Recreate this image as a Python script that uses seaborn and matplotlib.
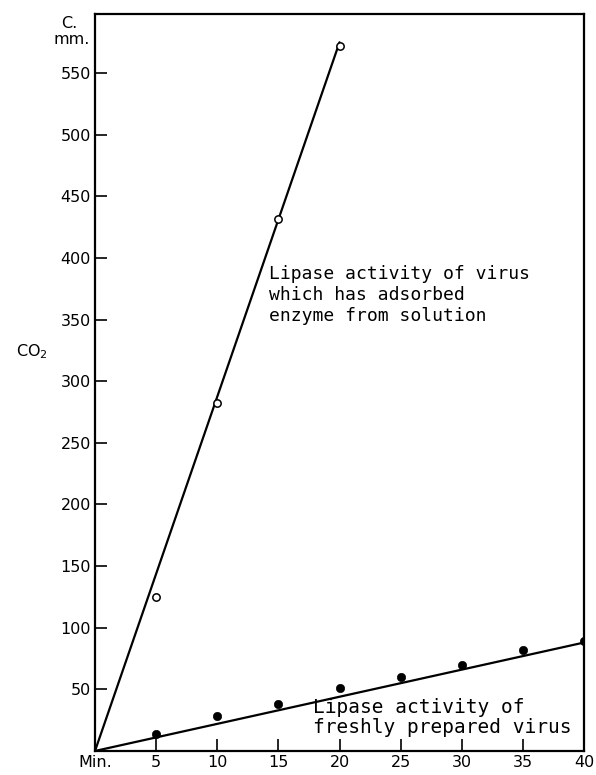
import numpy as np
import pandas as pd
import seaborn as sns
import matplotlib.pyplot as plt

# Data (minutes vs CO2 in c.mm.)
adsorbed_min = [5, 10, 15, 20]
adsorbed_co2 = [125, 282, 432, 572]
fresh_min = [5, 10, 15, 20, 25, 30, 35, 40]
fresh_co2 = [13.5, 28.5, 38, 51, 60, 70, 82, 89]

# drawn straight lines through the origin
adsorbed_line_x = [0, 20]
adsorbed_line_y = [0, 575]
fresh_line_x = [0, 40]
fresh_line_y = [0, 88]

x_ticks = [0, 5, 10, 15, 20, 25, 30, 35, 40]
x_labels = ['Min.', '5', '10', '15', '20', '25', '30', '35', '40']
y_ticks = [50, 100, 150, 200, 250, 300, 350, 400, 450, 500, 550]

sns.set_theme(style='white')
plt.rcParams['font.family'] = ['DejaVu Sans']
plt.rcParams['text.color'] = 'black'

fig = plt.figure(figsize=(5.96, 7.75), dpi=100)
ax = fig.add_axes([0.1594, 0.031, 0.8206, 0.951])

df_a = pd.DataFrame({'x': adsorbed_min, 'y': adsorbed_co2})
df_f = pd.DataFrame({'x': fresh_min, 'y': fresh_co2})
df_la = pd.DataFrame({'x': adsorbed_line_x, 'y': adsorbed_line_y})
df_lf = pd.DataFrame({'x': fresh_line_x, 'y': fresh_line_y})

sns.lineplot(data=df_la, x='x', y='y', color='black', linewidth=1.6, ax=ax)
sns.lineplot(data=df_lf, x='x', y='y', color='black', linewidth=1.6, ax=ax)
sns.scatterplot(data=df_a, x='x', y='y', marker='o', s=28, facecolor='white',
                edgecolor='black', linewidth=1.1, zorder=3, ax=ax)
sns.scatterplot(data=df_f, x='x', y='y', marker='o', s=36, color='black',
                edgecolor='black', zorder=3, ax=ax)

ax.set_xlim(0, 40)
ax.set_ylim(0, 598)
ax.set_xticks(x_ticks)
ax.set_xticklabels(x_labels)
ax.set_yticks(y_ticks)
ax.set_xlabel('')
ax.set_ylabel('')
ax.tick_params(direction='in', length=8.5, width=1.2, labelsize=11.5,
               colors='black', labelcolor='black', pad=3, bottom=True, left=True)
for s in ax.spines.values():
    s.set_visible(True)
    s.set_color('black')
    s.set_linewidth(1.6)

# axis unit labels
fig.text(69 / 596, 1 - 23 / 775, 'C.', ha='center', va='center', fontsize=11.5)
fig.text(72 / 596, 1 - 40 / 775, 'mm.', ha='center', va='center', fontsize=11.5)
fig.text(32 / 596, 1 - 352 / 775, 'CO$_2$', ha='center', va='center', fontsize=11.5)

ax.text(14.2, 370, 'Lipase activity of virus\nwhich has adsorbed\nenzyme from solution',
        ha='left', va='center', fontsize=13, linespacing=1.2,
        family='DejaVu Sans Mono')
ax.text(17.8, 27, 'Lipase activity of\nfreshly prepared virus',
        ha='left', va='center', fontsize=14, linespacing=1.05,
        family='DejaVu Sans Mono')

fig.savefig('out.png', dpi=100, facecolor='white')
